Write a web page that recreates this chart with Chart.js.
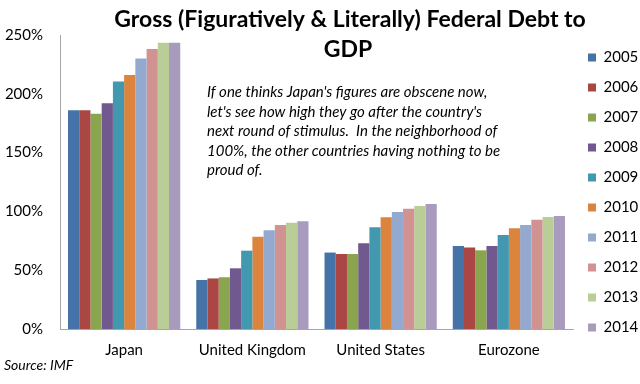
<!DOCTYPE html>
<html>
<head>
<meta charset="utf-8">
<script src="https://cdn.jsdelivr.net/npm/chart.js@4.4.0/dist/chart.umd.min.js"></script>
<style>
  html, body { margin: 0; padding: 0; background: #fff; }
  #wrap { width: 640px; height: 384px; position: relative; }
</style>
</head>
<body>
<div id="wrap"><canvas id="debtChart" width="640" height="384"></canvas></div>
<script>
const countries = ["Japan", "United Kingdom", "United States", "Eurozone"];
const years = ["2005", "2006", "2007", "2008", "2009", "2010", "2011", "2012", "2013", "2014"];
const colors = ["#4572A7", "#AA4643", "#89A54E", "#71588F", "#4198AF", "#DB843D", "#93A9CF", "#D19392", "#B9CD96", "#A99BBD"];

// debt to GDP (%) per year, order: Japan, UK, US, Eurozone
const debt2005 = [186, 41.7, 65, 70.6];
const debt2006 = [186, 43, 63.8, 69.2];
const debt2007 = [183, 44, 63.8, 66.9];
const debt2008 = [192, 51.6, 72.9, 70.6];
const debt2009 = [210.5, 66.6, 86.5, 80];
const debt2010 = [216, 78.5, 95, 85.6];
const debt2011 = [230, 84, 99.5, 88.4];
const debt2012 = [238, 88.4, 102.3, 93];
const debt2013 = [243.5, 90.4, 104.6, 95.2];
const debt2014 = [243.5, 91.6, 106.3, 96];

const allDebt = [debt2005, debt2006, debt2007, debt2008, debt2009, debt2010, debt2011, debt2012, debt2013, debt2014];

const titleLines = ["Gross (Figuratively & Literally) Federal Debt to", "GDP"];
const noteLines = [
  "If one thinks Japan's figures are obscene now,",
  "let's see how high they go after the country's",
  "next round of stimulus.  In the neighborhood of",
  "100%, the other countries having nothing to be",
  "proud of."
];
const sourceText = "Source: IMF";

const fontFam = "Lato, 'Open Sans', sans-serif";

// titles, note and source drawn straight on the canvas
const textPlugin = {
  id: "extraText",
  afterDraw(chart) {
    const ctx = chart.ctx;
    ctx.save();
    ctx.fillStyle = "#000";
    ctx.textAlign = "center";
    ctx.textBaseline = "alphabetic";
    ctx.font = "bold 23px " + fontFam;
    ctx.fillText(titleLines[0], 350, 27);
    ctx.fillText(titleLines[1], 348, 57);

    ctx.textAlign = "left";
    ctx.font = "italic 15px " + fontFam;
    noteLines.forEach((line, i) => {
      ctx.fillText(line, 207, 97 + i * 19.5);
    });

    ctx.font = "italic 14px " + fontFam;
    ctx.fillText(sourceText, 4, 370);
    ctx.restore();
  }
};

const datasets = years.map((yr, i) => ({
  label: yr,
  data: allDebt[i],
  backgroundColor: colors[i],
  borderWidth: 0,
  categoryPercentage: 0.875,
  barPercentage: 1.0
}));

new Chart(document.getElementById("debtChart"), {
  type: "bar",
  data: { labels: countries, datasets: datasets },
  options: {
    responsive: false,
    animation: false,
    layout: { padding: { top: 35, left: 0, right: 0, bottom: 23 } },
    plugins: {
      title: { display: false },
      tooltip: { enabled: false },
      legend: {
        position: "right",
        align: "start",
        maxWidth: 67,
        labels: {
          boxWidth: 8,
          boxHeight: 8,
          padding: 15,
          color: "#000",
          font: { family: fontFam, size: 15 }
        }
      }
    },
    scales: {
      x: {
        afterFit: (scale) => { scale.height = 32; },
        grid: { display: false, drawTicks: false },
        border: { color: "#a6a6a6" },
        ticks: { color: "#000", font: { family: fontFam, size: 15 }, padding: 12 }
      },
      y: {
        min: 0,
        max: 250,
        afterFit: (scale) => { scale.width = 60; },
        grid: { display: false, drawTicks: false },
        border: { color: "#a6a6a6" },
        ticks: {
          stepSize: 50,
          color: "#000",
          padding: 17,
          font: { family: fontFam, size: 15 },
          callback: (v) => v + "%"
        }
      }
    }
  },
  plugins: [textPlugin]
});
</script>
</body>
</html>
